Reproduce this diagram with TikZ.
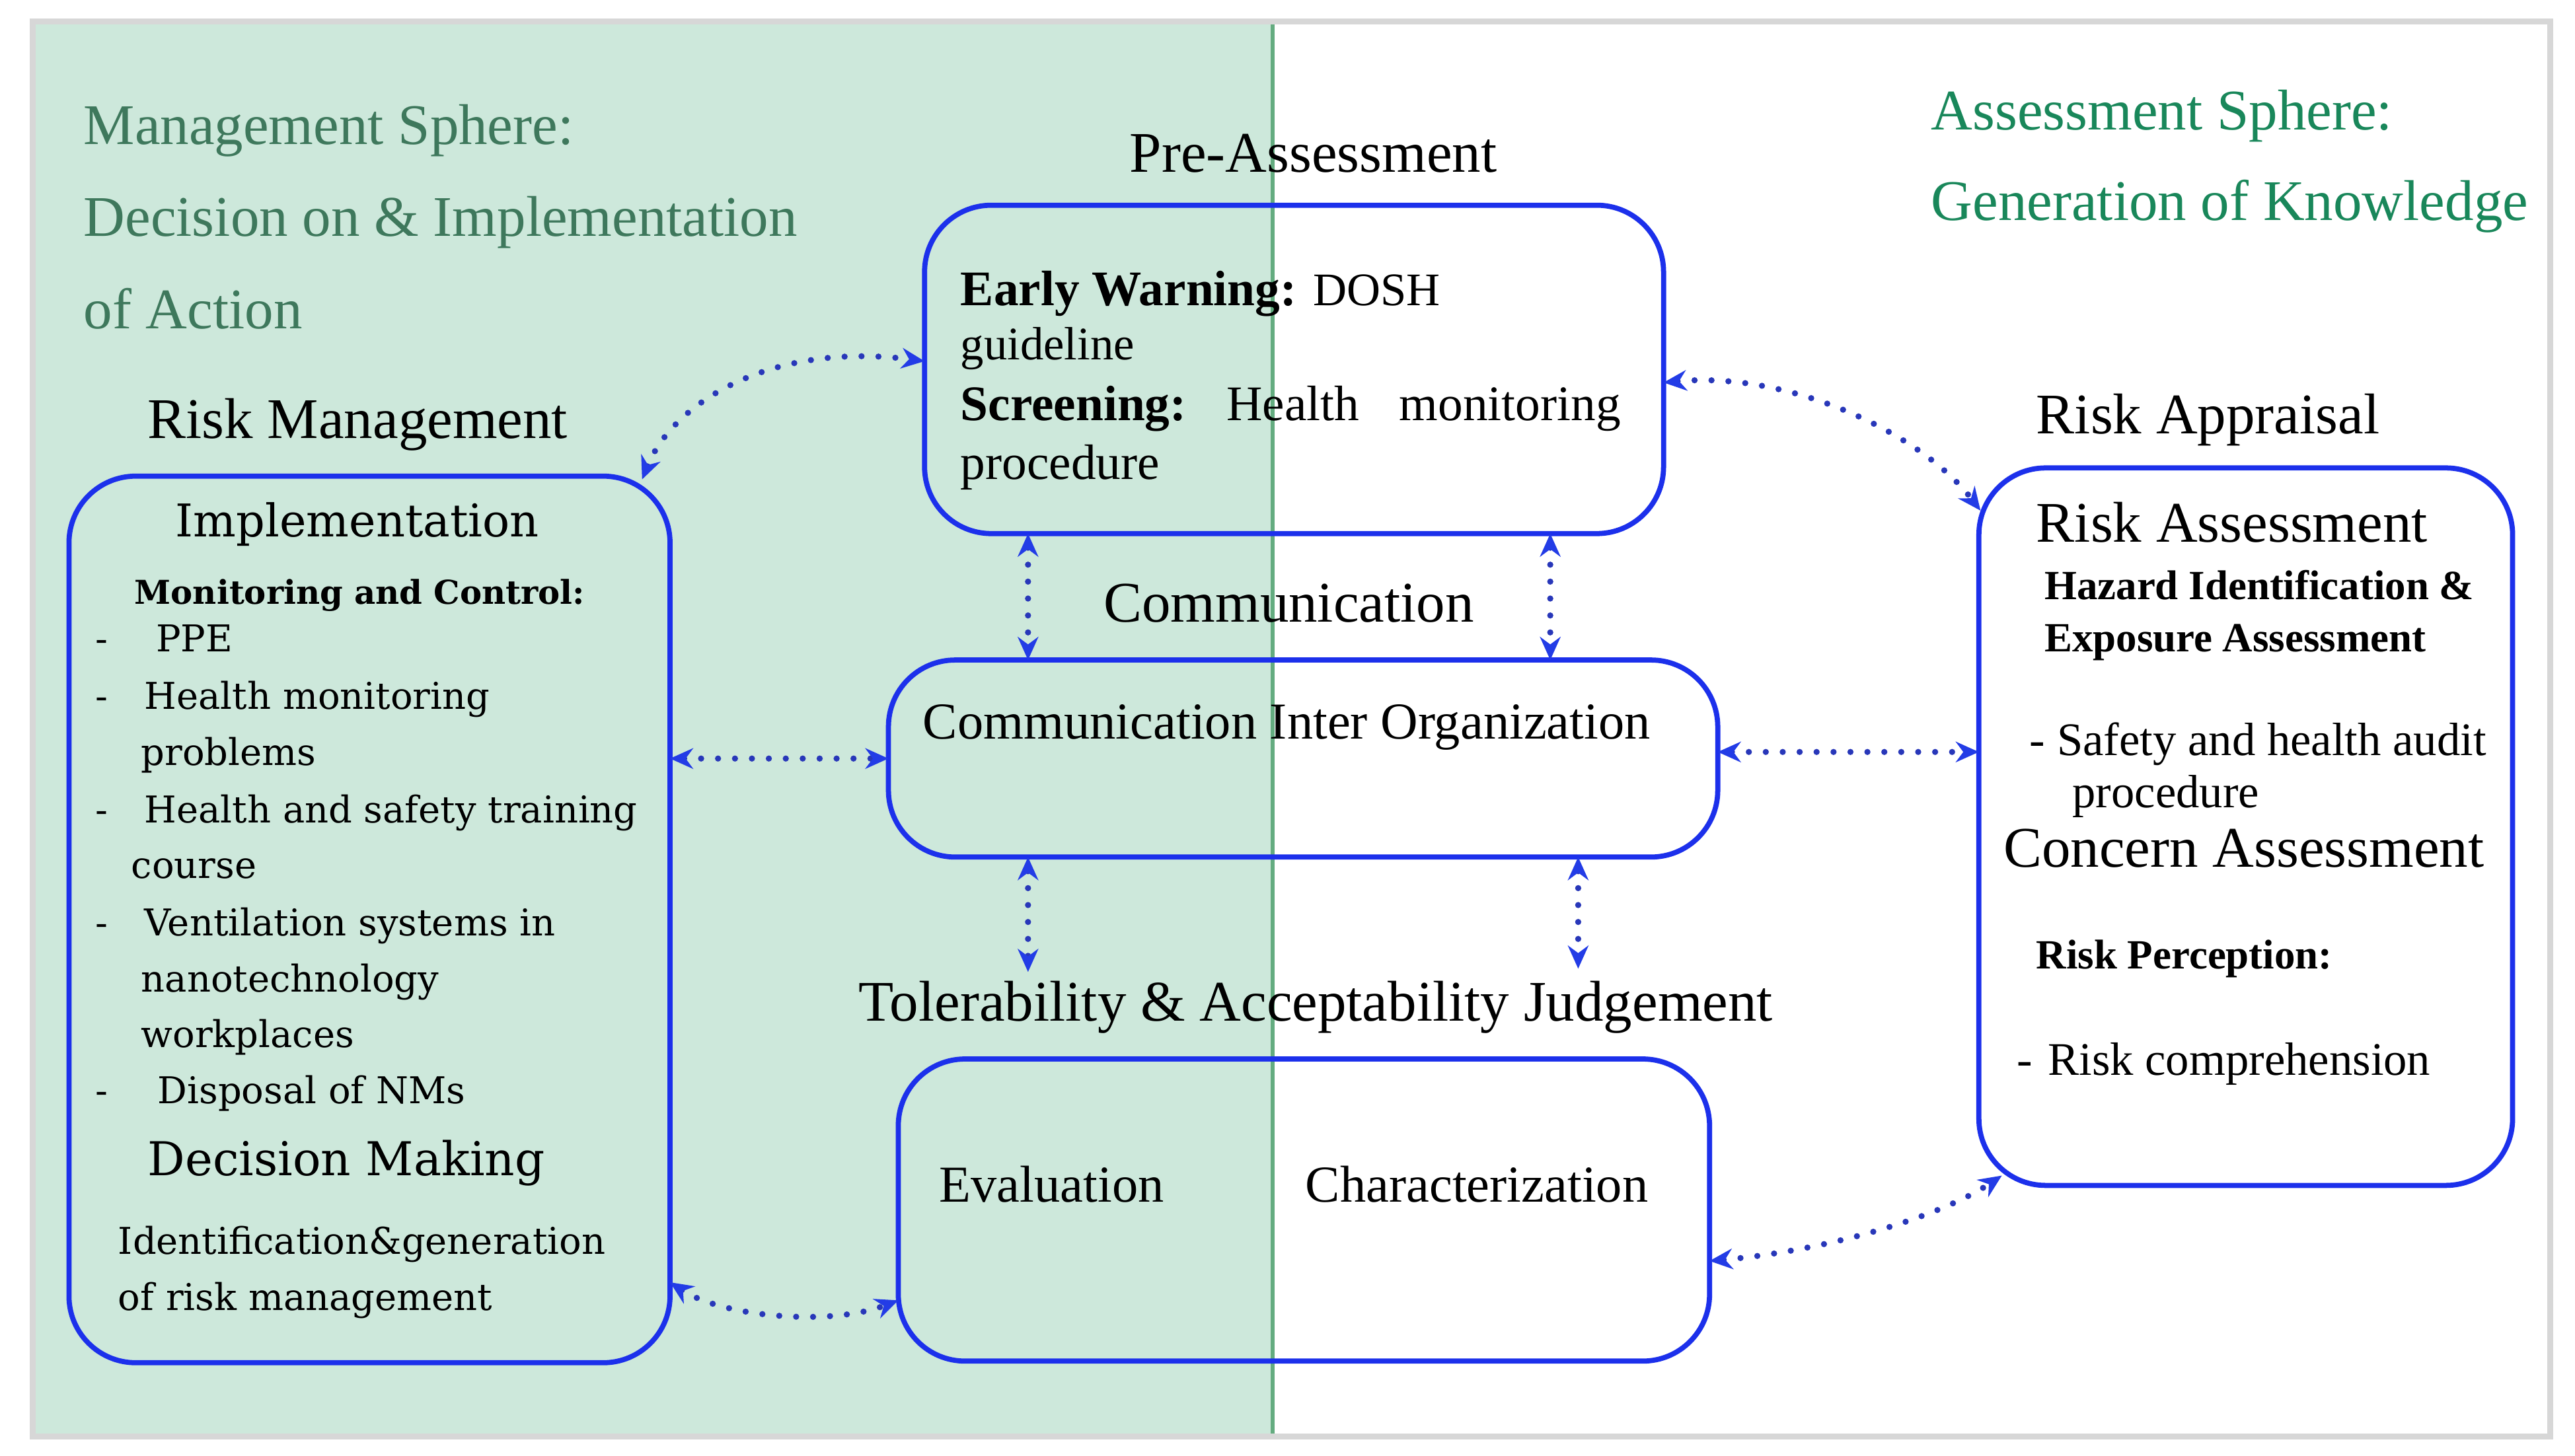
\documentclass[tikz,border=0pt]{standalone}
\usepackage{fontspec}
\setmainfont{Liberation Serif}
\newfontfamily\cent{DejaVu Serif}
\usetikzlibrary{arrows.meta}
\definecolor{mint}{RGB}{205,232,219}
\definecolor{sepgreen}{RGB}{100,172,128}
\definecolor{framegray}{RGB}{215,215,215}
\definecolor{boxblue}{RGB}{28,48,235}
\definecolor{dotblue}{RGB}{40,55,185}
\definecolor{tipblue}{RGB}{35,60,230}
\definecolor{titleA}{RGB}{62,120,92}
\definecolor{titleB}{RGB}{25,135,90}
\newcommand\fH{\fontsize{11.2pt}{13pt}\selectfont}
\newcommand\fC{\fontsize{10.1pt}{12pt}\selectfont}
\newcommand\fP{\fontsize{9.7pt}{12pt}\selectfont}
\newcommand\fPs{\fontsize{9.1pt}{11pt}\selectfont}
\newcommand\fR{\fontsize{9.1pt}{11pt}\selectfont}
\newcommand\fB{\fontsize{8.1pt}{10pt}\selectfont}
\newcommand\fLH{\cent\fontsize{8.8pt}{10pt}\selectfont}
\newcommand\fLD{\cent\fontsize{9.1pt}{10pt}\selectfont}
\newcommand\fLI{\cent\fontsize{7.2pt}{9pt}\selectfont}
\newcommand\fLB{\cent\bfseries\fontsize{6.4pt}{8pt}\selectfont}
\def\U{0.32pt}
\begin{document}
\begin{tikzpicture}[x=0.32pt,y=-0.32pt,
  box/.style={draw=boxblue,line width=1pt,rounded corners=13pt,inner sep=0pt,outer sep=0pt},
  txt/.style={anchor=base west,inner sep=0pt,outer sep=0pt},
  conn/.style={draw=dotblue,line width=1.2pt,dash pattern=on 0pt off 3.3pt,line cap=round,
    {Stealth[length=4.5pt,width=4pt,color=tipblue]}-{Stealth[length=4.5pt,width=4pt,color=tipblue]}}]
\useasboundingbox (0,0) rectangle (1568,886.8);
% background
\fill[white] (0,0) rectangle (1568,886.8);
\fill[mint] (21,14) rectangle (775,873);
\draw[sepgreen,line width=0.7pt] (775,14) -- (775,873);
\draw[framegray,line width=1.2pt] (20,13) rectangle (1553,875);
% titles
\node[txt,text=titleA] (tm1) at (51,88) {\fH Management Sphere:};
\node[txt,text=titleA] (tm2) at (51,144) {\fH Decision on \& Implementation};
\node[txt,text=titleA] (tm3) at (51,200) {\fH of Action};
\node[txt,text=titleB] (ta1) at (1176,79) {\fH Assessment Sphere:};
\node[txt,text=titleB] (ta2) at (1176,134) {\fH Generation of Knowledge};
% boxes
\node[box,minimum width=450*\U,minimum height=200*\U] (pre) at (788,225) {};
\node[box,minimum width=366*\U,minimum height=540*\U] (left) at (225,560) {};
\node[box,minimum width=505*\U,minimum height=120*\U] (comm) at (793.5,462) {};
\node[box,minimum width=494*\U,minimum height=184*\U] (tol) at (794,737) {};
\node[box,minimum width=325*\U,minimum height=437*\U] (right) at (1367.5,503.5) {};
% headings
\node[txt] (hpre) at (688,105) {\fH Pre-Assessment};
\node[txt] (hrm) at (90,267) {\fH Risk Management};
\node[txt] (hra) at (1240,264) {\fH Risk Appraisal};
\node[txt] (hcom) at (672,379) {\fH Communication};
\node[txt] (htol) at (523,622) {\fH Tolerability \& Acceptability Judgement};
% pre box text
\node[txt] (p1) at (585,186) {\fP\textbf{Early Warning:} {\fPs DOSH}};
\node[txt] (p2) at (585,219) {\fPs guideline};
\node[txt] (p3) at (585,256) {\fP\makebox[128.6pt][s]{\textbf{Screening:}\hfill Health\hfill monitoring}};
\node[txt] (p4) at (585,292) {\fP procedure};
% comm box text
\node[txt] (ctext) at (562,450) {\fC Communication Inter Organization};
% tol box text
\node[txt] (eval) at (572,732) {\fC Evaluation};
\node[txt] (char) at (795,732) {\fC Characterization};
% right box text
\node[txt] (r1) at (1240,330) {\fH Risk Assessment};
\node[txt] (r2) at (1245,365) {\fB\textbf{Hazard Identification \&}};
\node[txt] (r3) at (1245,397) {\fB\textbf{Exposure Assessment}};
\node[txt] (r4) at (1236,460) {\fR - Safety and health audit};
\node[txt] (r5) at (1262,492) {\fR procedure};
\node[txt] (r6) at (1220,528) {\fH Concern Assessment};
\node[txt] (r7) at (1240,590) {\fB\textbf{Risk Perception:}};
\node[txt] (r8d) at (1228,655) {\fR -};
\node[txt] (r8) at (1247,655) {\fR Risk comprehension};
% left box text
\node[txt] (l1) at (107,327) {\fLH Implementation};
\node[txt] (l2) at (82,368) {\fLB Monitoring and Control:};
\node[txt] (d1) at (58,397) {\fLI -};
\node[txt] (l3) at (95,397) {\fLI PPE};
\node[txt] (d2) at (58,432) {\fLI -};
\node[txt] (l4) at (88,432) {\fLI Health monitoring};
\node[txt] (l5) at (86,466) {\fLI problems};
\node[txt] (d3) at (58,501) {\fLI -};
\node[txt] (l6) at (88,501) {\fLI Health and safety training};
\node[txt] (l7) at (80,535) {\fLI course};
\node[txt] (d4) at (58,570) {\fLI -};
\node[txt] (l8) at (88,570) {\fLI Ventilation systems in};
\node[txt] (l9) at (86,604) {\fLI nanotechnology};
\node[txt] (l10) at (86,638) {\fLI workplaces};
\node[txt] (d5) at (58,672) {\fLI -};
\node[txt] (l11) at (96,672) {\fLI Disposal of NMs};
\node[txt] (l12) at (90,716) {\fLD Decision Making};
\node[txt] (l13) at (72,764) {\fLI Identification\&generation};
\node[txt] (l14) at (72,798) {\fLI of risk management};
% helper coordinates
\coordinate (vx1) at (626,0);
\coordinate (vx2) at (944,0);
\coordinate (vx3) at (961,0);
\coordinate (t1) at (626,592);
\coordinate (t2) at (961,590);
\coordinate (lTR) at (391,292);
\coordinate (rTL) at (1206,311);
\coordinate (y1) at (0,220);
\coordinate (y2) at (0,233);
\coordinate (y6) at (0,458);
\coordinate (y7a) at (0,781);
\coordinate (y7b) at (0,792);
\coordinate (y8) at (0,768);
\coordinate (rBL) at (1219,716);
% connectors
\draw[conn] (lTR) .. controls (410,245) and (470,208) .. (pre.west |- y1);
\draw[conn] (pre.east |- y2) .. controls (1090,226) and (1170,264) .. (rTL);
\draw[conn] (pre.south -| vx1) -- (comm.north -| vx1);
\draw[conn] (pre.south -| vx2) -- (comm.north -| vx2);
\draw[conn] (comm.south -| vx1) -- (t1);
\draw[conn] (comm.south -| vx3) -- (t2);
\draw[conn] (left.east |- comm.west) -- (comm.west);
\draw[conn] (comm.east |- y6) -- (right.west |- y6);
\draw[conn] (left.east |- y7a) .. controls (440,802) and (505,808) .. (tol.west |- y7b);
\draw[conn] (tol.east |- y8) .. controls (1110,762) and (1180,742) .. (rBL);
\end{tikzpicture}
\end{document}
